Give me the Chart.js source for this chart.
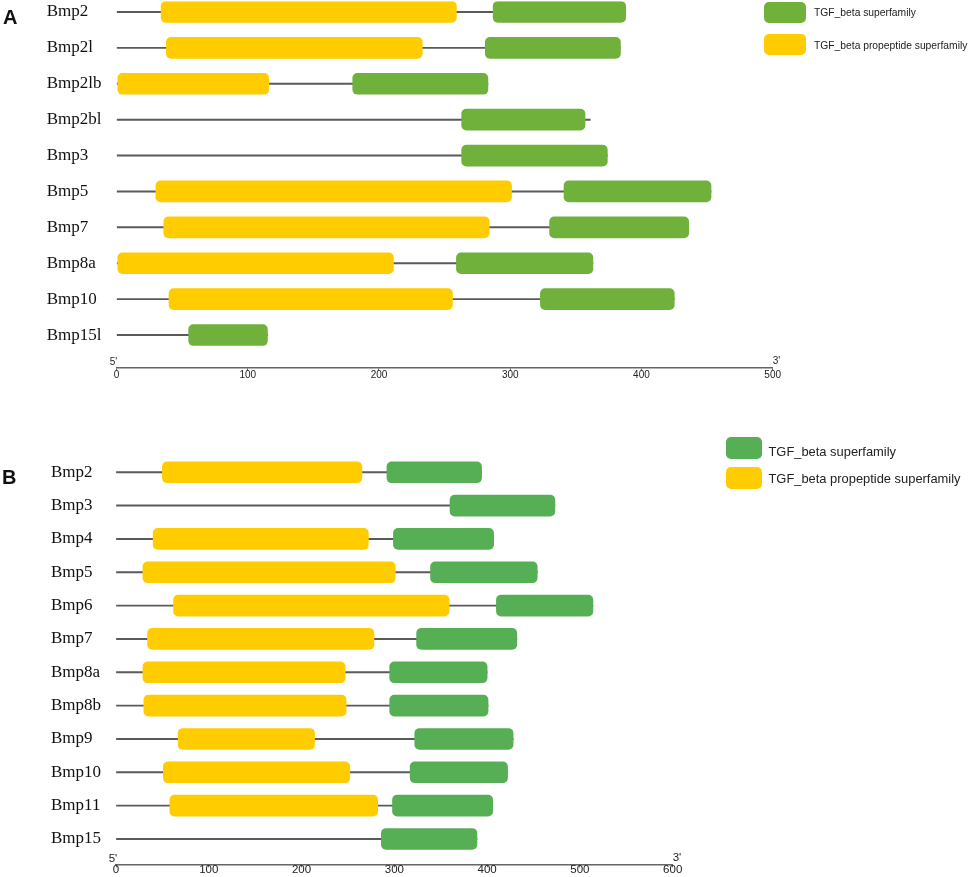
<!DOCTYPE html>
<html>
<head>
<meta charset="utf-8">
<script src="https://cdn.jsdelivr.net/npm/chart.js@4.4.0/dist/chart.umd.min.js"></script>
<style>
  html, body { margin: 0; padding: 0; background: #fff; }
  body { position: relative; width: 969px; height: 877px; overflow: hidden; }
  canvas { position: absolute; left: 0; }
  .tag { position: absolute; font: bold 20px "Liberation Sans", Arial, sans-serif; line-height: 1; color: #111; }
  .key { position: absolute; border-radius: 5px; }
  .keytxt { position: absolute; font-family: "Liberation Sans", Arial, sans-serif; color: #222;
            white-space: nowrap; line-height: 1; transform: translateY(-50%); }
</style>
</head>
<body>
<canvas id="panelA" width="969" height="382" style="top:0"></canvas>
<canvas id="panelB" width="969" height="437" style="top:440px"></canvas>
<div class="tag" style="left:3px;top:7px">A</div>
<div class="tag" style="left:2px;top:467px">B</div>
<script>
const domainNames = ['TGF_beta superfamily', 'TGF_beta propeptide superfamily'];

// panel A (aa positions)
const genesA = ['Bmp2', 'Bmp2l', 'Bmp2lb', 'Bmp2bl', 'Bmp3', 'Bmp5', 'Bmp7', 'Bmp8a', 'Bmp10', 'Bmp15l'];
const lengthA = [388, 384, 283, 361, 374, 453, 436, 363, 425, 115];
const propA = [[34, 259], [38, 233], [1, 116], null, null, [30, 301], [36, 284], [1, 211], [40, 256], null];
const tgfA = [[287, 388], [281, 384], [180, 283], [263, 357], [263, 374], [341, 453], [330, 436], [259, 363], [323, 425], [55, 115]];
const ticksA = [0, 100, 200, 300, 400, 500];

// panel B
const genesB = ['Bmp2', 'Bmp3', 'Bmp4', 'Bmp5', 'Bmp6', 'Bmp7', 'Bmp8a', 'Bmp8b', 'Bmp9', 'Bmp10', 'Bmp11', 'Bmp15'];
const lengthB = [394, 473, 407, 454, 514, 432, 400, 401, 428, 422, 406, 389];
const propB = [[50, 265], null, [40, 272], [29, 301], [62, 359], [34, 278], [29, 247], [30, 248], [67, 214], [51, 252], [58, 282], null];
const tgfB = [[292, 394], [360, 473], [299, 407], [339, 454], [410, 514], [324, 432], [295, 400], [295, 401], [322, 428], [317, 422], [298, 406], [286, 389]];
const ticksB = [0, 100, 200, 300, 400, 500, 600];

const YELLOW = '#FFCC00';
const SANS = '"Liberation Sans", Arial, sans-serif';
const SERIF = '"Liberation Serif", "Times New Roman", serif';

// 5' / 3' marks at the ends of the axis
const endLabels = {
  id: 'endLabels',
  afterDraw(chart, args, opts) {
    const { ctx, chartArea } = chart;
    const x = chart.scales.x;
    ctx.save();
    ctx.font = opts.size + 'px ' + SANS;
    ctx.fillStyle = '#222';
    ctx.textBaseline = 'bottom';
    ctx.textAlign = 'center';
    ctx.fillText("5'", x.getPixelForValue(x.min) - 3, chartArea.bottom);
    ctx.textAlign = 'left';
    ctx.fillText("3'", x.getPixelForValue(x.max), chartArea.bottom - 1);
    ctx.restore();
  }
};

function rows(ranges) {
  const out = [];
  ranges.forEach(function (r, i) { if (r) out.push({ x: r, y: i }); });
  return out;
}

function makePanel(id, genes, lengths, prop, tgf, ticks, look) {
  const ctx = document.getElementById(id).getContext('2d');
  return new Chart(ctx, {
    type: 'bar',
    data: {
      datasets: [
        { label: domainNames[0], data: rows(tgf), backgroundColor: look.green, barThickness: look.box, order: 1 },
        { label: domainNames[1], data: rows(prop), backgroundColor: YELLOW, barThickness: look.box, order: 1 },
        { label: 'protein', data: rows(lengths.map(function (l) { return [0, l]; })),
          backgroundColor: '#5a5a5a', barThickness: 1.3, borderRadius: 0, order: 2 }
      ]
    },
    options: {
      indexAxis: 'y',
      responsive: false,
      animation: false,
      layout: { padding: look.pad },
      datasets: { bar: { grouped: false, borderRadius: 5, borderSkipped: false } },
      scales: {
        x: {
          type: 'linear',
          min: 0,
          max: ticks[ticks.length - 1],
          afterBuildTicks: function (s) { s.ticks = ticks.map(function (v) { return { value: v }; }); },
          afterFit: function (s) { s.height = look.axisH; s.paddingLeft = 0; s.paddingRight = 0; },
          ticks: { color: '#222', padding: look.tickPad, maxRotation: 0, font: { family: SANS, size: look.tickSize } },
          grid: { drawOnChartArea: false, tickLength: 3, color: '#666', lineWidth: 1 },
          border: { color: '#666', width: 1.4 }
        },
        y: {
          type: 'linear',
          reverse: true,
          offset: false,
          bounds: 'data',
          min: look.yMin,
          max: genes.length - 1 + look.yExtra,
          afterBuildTicks: function (s) { s.ticks = genes.map(function (g, i) { return { value: i }; }); },
          afterFit: function (s) { s.width = look.axisW; s.paddingTop = 0; s.paddingBottom = 0; },
          ticks: {
            callback: function (v) { return genes[v]; },
            autoSkip: false, crossAlign: 'far', padding: 0, color: '#111',
            font: { family: SERIF, size: 17 }
          },
          grid: { display: false, offset: false },
          border: { display: false }
        }
      },
      plugins: {
        legend: { display: false },
        tooltip: { enabled: false },
        endLabels: { size: look.tickSize }
      }
    },
    plugins: [endLabels]
  });
}

// html key, same order as the datasets
function addKey(k, green) {
  [green, YELLOW].forEach(function (c, i) {
    const box = document.createElement('div');
    box.className = 'key';
    box.style.cssText = 'left:' + k.x + 'px;top:' + k.tops[i] + 'px;width:' + k.w + 'px;height:' + k.h + 'px;background:' + c;
    document.body.appendChild(box);
    const t = document.createElement('div');
    t.className = 'keytxt';
    t.textContent = domainNames[i];
    t.style.cssText = 'left:' + k.tx + 'px;top:' + k.ty[i] + 'px;font-size:' + k.size + 'px';
    document.body.appendChild(t);
  });
}

const greenA = '#70B13C';
const greenB = '#56AE55';

makePanel('panelA', genesA, lengthA, propA, tgfA, ticksA, {
  green: greenA, box: 21, pad: { left: 46.7, right: 196.3, top: 1.2, bottom: 0 },
  yMin: -0.3, yExtra: 0.91, axisW: 69.8, axisH: 14.3, tickSize: 10, tickPad: -1.4
});
makePanel('panelB', genesB, lengthB, propB, tgfB, ticksB, {
  green: greenB, box: 21, pad: { left: 51, right: 296.3, top: 15.6, bottom: 0 },
  yMin: -0.5, yExtra: 0.76, axisW: 65, axisH: 12.7, tickSize: 11.5, tickPad: -3.9
});

addKey({ x: 764, tops: [1.5, 34.3], w: 42, h: 21, tx: 814, ty: [13, 46], size: 10.3 }, greenA);
addKey({ x: 726, tops: [437, 467], w: 36, h: 22, tx: 768.5, ty: [452, 479.3], size: 12.9 }, greenB);
</script>
</body>
</html>
